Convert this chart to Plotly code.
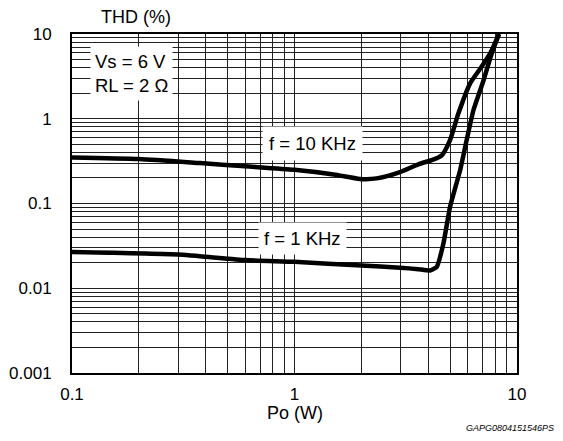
import plotly.graph_objects as go

# Data (Po in W, THD in %)
po_10k = [0.1, 0.2, 0.376, 0.6, 1.0, 1.5, 1.97, 2.34, 2.98, 3.6, 4.2, 4.59, 5.0, 5.45, 6.15, 6.93, 7.6, 8.3]
thd_10k = [0.35, 0.335, 0.30, 0.275, 0.25, 0.22, 0.195, 0.198, 0.235, 0.29, 0.33, 0.37, 0.56, 1.15, 2.6, 4.1, 6.0, 10.0]

po_1k = [0.1, 0.3, 0.6, 1.0, 2.0, 2.98, 3.6, 4.06, 4.36, 4.67, 5.0, 5.55, 5.94, 6.37, 7.07, 7.69, 8.3]
thd_1k = [0.0267, 0.025, 0.0215, 0.0205, 0.0185, 0.0175, 0.0168, 0.0162, 0.0179, 0.0338, 0.091, 0.247, 0.56, 1.26, 2.83, 5.85, 10.0]

x_ticks = [0.1, 1, 10]
x_tick_labels = ["0.1", "1", "10"]
y_ticks = [0.001, 0.01, 0.1, 1, 10]
y_tick_labels = ["0.001", "0.01", "0.1", "1", "10"]

FONT = "Liberation Sans, Arial, sans-serif"

def grid_vals(lo_exp, hi_exp):
    vals = []
    for e in range(lo_exp, hi_exp):
        for m in range(1, 10):
            vals.append(m * 10.0 ** e)
    vals.append(10.0 ** hi_exp)
    return vals

def labels_for(vals, majors, major_labels):
    out = []
    for v in vals:
        lab = ""
        for mv, ml in zip(majors, major_labels):
            if abs(v - mv) / mv < 1e-9:
                lab = ml
        out.append(lab)
    return out

xv = grid_vals(-1, 1)
yv = grid_vals(-3, 1)

fig = go.Figure()
fig.add_trace(go.Scatter(x=po_10k, y=thd_10k, mode="lines",
                         line=dict(color="black", width=4.5, shape="spline", smoothing=0.6),
                         showlegend=False))
fig.add_trace(go.Scatter(x=po_1k, y=thd_1k, mode="lines",
                         line=dict(color="black", width=4.5, shape="spline", smoothing=0.4),
                         showlegend=False))

fig.update_xaxes(type="log", range=[-1, 1], tickvals=xv, ticktext=labels_for(xv, x_ticks, x_tick_labels),
                 showgrid=True, gridcolor="#222", gridwidth=1, ticks="",
                 showline=True, linecolor="black", linewidth=2, mirror=True,
                 tickfont=dict(family=FONT, size=17, color="black"), ticklabelstandoff=5, zeroline=False)
fig.update_yaxes(type="log", range=[-3, 1], tickvals=yv, ticktext=labels_for(yv, y_ticks, y_tick_labels),
                 showgrid=True, gridcolor="#222", gridwidth=1, ticks="",
                 showline=True, linecolor="black", linewidth=2, mirror=True,
                 tickfont=dict(family=FONT, size=17, color="black"), ticklabelstandoff=15, zeroline=False)

annots = [
    dict(text="Vs = 6 V<br>RL = 2 Ω", x=0.04, y=0.965, xanchor="left", yanchor="top", align="left",
         font=dict(family=FONT, size=18.5, color="black"), bgcolor="white", borderpad=4),
    dict(text="f = 10 KHz", x=0.541, y=0.676, xanchor="center", yanchor="middle",
         font=dict(family=FONT, size=18.5, color="black"), bgcolor="white", borderpad=6),
    dict(text="f = 1 KHz", x=0.519, y=0.398, xanchor="center", yanchor="middle",
         font=dict(family=FONT, size=18.5, color="black"), bgcolor="white", borderpad=5),
    dict(text="THD (%)", x=0.144, y=1.049, xanchor="center", yanchor="middle",
         font=dict(family=FONT, size=18, color="black")),
    dict(text="Po (W)", x=0.5, y=-0.117, xanchor="center", yanchor="middle",
         font=dict(family=FONT, size=18, color="black")),
    dict(text="<i>GAPG0804151546PS</i>", x=1.088, y=-0.162, xanchor="right", yanchor="middle",
         font=dict(family=FONT, size=9, color="black")),
]
for a in annots:
    a.update(xref="paper", yref="paper", showarrow=False)
    fig.add_annotation(**a)

# page body has an 8px default margin; margins are compensated for it
fig.update_layout(width=563, height=441, margin=dict(l=64, r=54, t=25.5, b=76, autoexpand=False),
                  plot_bgcolor="white", paper_bgcolor="white")

fig.write_html("out.html")
